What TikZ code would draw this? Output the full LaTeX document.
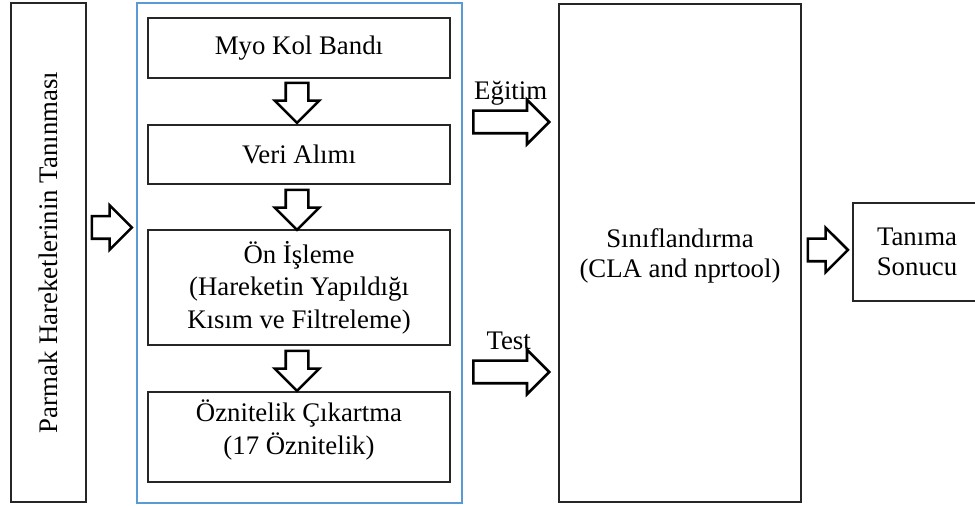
\documentclass[tikz,border=0pt]{standalone}
\usepackage{fontspec}
\setmainfont{Liberation Serif}
\usetikzlibrary{shapes.arrows,calc,positioning}

\definecolor{frameblue}{HTML}{5B9BD5}

\tikzset{
  txt/.style={font=\fontsize{26.8}{32.5}\selectfont, align=center},
  stepbox/.style={txt, draw=black!85, line width=1.2pt, inner sep=0pt},
  lbl/.style={txt, inner sep=0pt},
  bigarrow/.style={single arrow, draw=black, fill=white, line width=2.6pt,
    minimum height=#1, inner xsep=0pt, inner ysep=10pt,
    text height=0pt, text depth=0pt,
    single arrow head extend=11pt, single arrow tip angle=90},
  bigarrow/.default=40pt
}

\begin{document}
\begin{tikzpicture}[x=1pt, y=1pt]
  \useasboundingbox (0,0) rectangle (975,506);

  % input column
  \node[stepbox, minimum width=75pt, minimum height=499pt] (gesture) at (48.5,253.5) {};
  \node[lbl, rotate=90] (gesturelbl) at (gesture.center) {Parmak Hareketlerinin Tanınması};

  % processing chain inside the blue frame
  \node[draw=frameblue, line width=2pt, minimum width=325pt, minimum height=500pt] (frame) at (299.5,253) {};
  \node[stepbox, minimum width=302pt, minimum height=60pt] (myo) at (299,458) {Myo Kol Bandı};
  \node[stepbox, minimum width=302pt, minimum height=59pt] (veri) at (299,351.5) {Veri Alımı};
  \node[stepbox, minimum width=302pt, minimum height=115pt] (onisleme) at (299,218.5)
    {Ön İşleme\\(Hareketin Yapıldığı\\Kısım ve Filtreleme)};
  \node[stepbox, minimum width=302pt, minimum height=90pt, text depth=20pt] (oznitelik) at (299,69)
    {Öznitelik Çıkartma\\(17 Öznitelik)};

  \node[bigarrow, rotate=-90, anchor=tail] (a1) at ($(myo.south)+(-2,-3)$) {};
  \node[bigarrow, rotate=-90, anchor=tail] (a2) at ($(veri.south)+(-2,-4)$) {};
  \node[bigarrow, rotate=-90, anchor=tail] (a3) at ($(onisleme.south)+(-2,-4)$) {};

  \node[bigarrow, anchor=tail] (ain) at ($(gesture.east)+(4,25)$) {};

  % classifier
  \node[stepbox, minimum width=242pt, minimum height=498pt] (cls) at (680,253) {};
  \node[lbl, font=\fontsize{26.8}{30}\selectfont] (clslbl) at ($(cls.center)+(0,-3)$)
    {Sınıflandırma\\(CLA and nprtool)};

  \node[bigarrow=76pt, anchor=tail] (ear) at ($(frame.east)+(9,131)$) {};
  \node[bigarrow=76pt, anchor=tail] (tar) at ($(frame.east)+(9,-119)$) {};
  \node[lbl, anchor=base] (egitim) at ($(frame.east)!0.5!(cls.west)+(0,153)$) {Eğitim};
  \node[lbl, anchor=base] (test) at ($(frame.east)!0.5!(cls.west)+(-2,-97)$) {Test};

  % result, runs off the right edge
  \begin{scope}
    \clip (0,0) rectangle (975,506);
    \node[stepbox, font=\fontsize{26.8}{29.5}\selectfont, minimum width=128pt, minimum height=98pt]
      (res) at (917,254) {Tanıma\\Sonucu};
  \end{scope}
  \node[bigarrow, anchor=tail] (aout) at ($(cls.east)+(5,3)$) {};
\end{tikzpicture}
\end{document}
